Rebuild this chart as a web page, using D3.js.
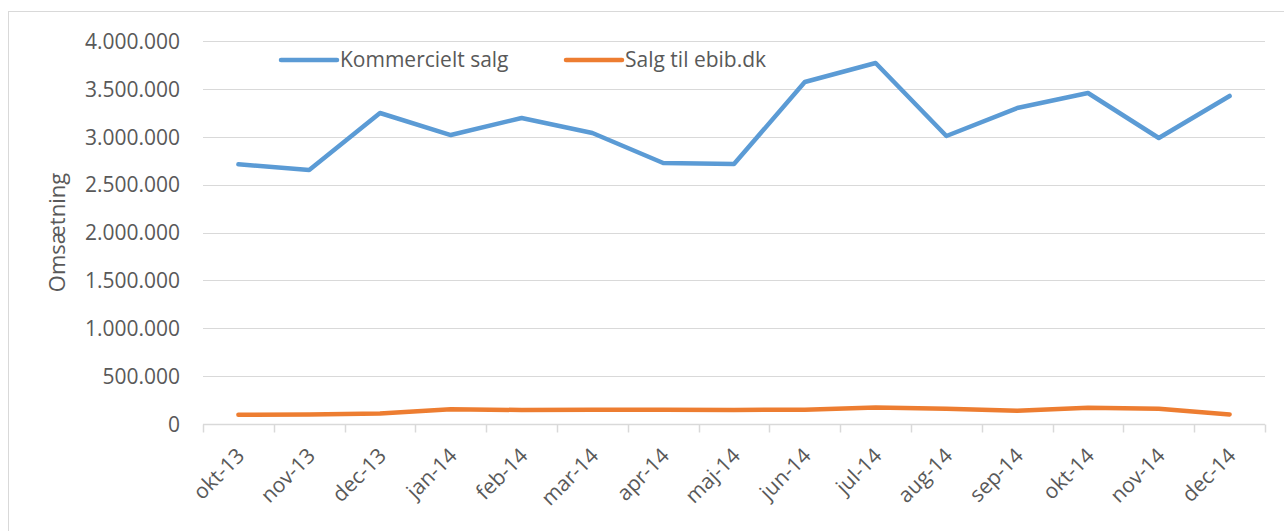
<!DOCTYPE html>
<html>
<head>
<meta charset="utf-8">
<script src="https://cdn.jsdelivr.net/npm/d3@7"></script>
<style>
  body { margin: 0; background: #fff; }
  svg text { font-family: "Open Sans", sans-serif; fill: #595959; }
</style>
</head>
<body>
<div id="chart"></div>
<script>
const months = ["okt-13", "nov-13", "dec-13", "jan-14", "feb-14", "mar-14", "apr-14", "maj-14",
  "jun-14", "jul-14", "aug-14", "sep-14", "okt-14", "nov-14", "dec-14"];
const kommercielt = [2712000, 2653000, 3248000, 3018000, 3196000, 3039000, 2726000, 2715000,
  3572000, 3770000, 3008000, 3300000, 3457000, 2987000, 3426000];
const ebib = [97000, 100000, 110000, 154000, 146000, 150000, 150000, 146000,
  150000, 172000, 160000, 138000, 170000, 160000, 100000];
const yTicks = [0, 500000, 1000000, 1500000, 2000000, 2500000, 3000000, 3500000, 4000000];
const seriesNames = ["Kommercielt salg", "Salg til ebib.dk"];
const colors = ["#5b9bd5", "#ed7d31"];

const w = 1284;
const h = 531;
const plotL = 203, plotR = 1265, plotT = 41, plotB = 424;

const svg = d3.select("#chart").append("svg").attr("width", w).attr("height", h);

// chart frame
svg.append("rect")
  .attr("x", 8.5).attr("y", 11.5)
  .attr("width", 1300).attr("height", 600)
  .attr("fill", "none").attr("stroke", "#d9d9d9");

const x = d3.scaleBand().domain(months).range([plotL, plotR]);
const y = d3.scaleLinear().domain([0, 4000000]).range([plotB, plotT]);

const fmt = d3.formatLocale({ decimal: ",", thousands: ".", grouping: [3], currency: ["", " kr"] }).format(",d");

// gridlines
svg.append("g")
  .selectAll("line")
  .data(yTicks.filter((d) => d > 0))
  .enter()
  .append("line")
  .attr("x1", plotL).attr("x2", plotR)
  .attr("y1", (d) => Math.round(y(d)) + 0.5)
  .attr("y2", (d) => Math.round(y(d)) + 0.5)
  .attr("stroke", "#d9d9d9").attr("stroke-width", 1);

// y axis labels
const yAxis = d3.axisLeft(y).tickValues(yTicks).tickFormat(fmt).tickSize(0).tickPadding(23);
const gy = svg.append("g").attr("transform", "translate(" + plotL + ",0)").call(yAxis);
gy.select(".domain").remove();
gy.selectAll("text").style("font-size", "21px").attr("dy", "0.35em");

// x axis
const gx = svg.append("g").attr("transform", "translate(0," + (plotB + 0.5) + ")");
gx.append("line").attr("x1", plotL).attr("x2", plotR).attr("stroke", "#d9d9d9").attr("stroke-width", 1.5);
const edges = months.map((m) => x(m)).concat([plotR]);
gx.selectAll(".tk")
  .data(edges)
  .enter()
  .append("line")
  .attr("x1", (d) => Math.round(d) + 0.5).attr("x2", (d) => Math.round(d) + 0.5)
  .attr("y1", 0).attr("y2", 8)
  .attr("stroke", "#d9d9d9").attr("stroke-width", 1.5);
gx.selectAll(".lbl")
  .data(months)
  .enter()
  .append("text")
  .attr("text-anchor", "end")
  .attr("transform", (d) => "translate(" + (x(d) + x.bandwidth() / 2 - 3) + ",22) rotate(-45)")
  .attr("dy", "0.7em")
  .style("font-size", "21px")
  .text((d) => d);

// y title
svg.append("text")
  .attr("transform", "translate(65," + (plotT + plotB) / 2 + ") rotate(-90)")
  .attr("text-anchor", "middle")
  .style("font-size", "22px")
  .text("Omsætning");

// lines
const line = d3.line()
  .x((d, i) => x(months[i]) + x.bandwidth() / 2)
  .y((d) => y(d));
[kommercielt, ebib].forEach((s, i) => {
  svg.append("path")
    .datum(s)
    .attr("d", line)
    .attr("fill", "none")
    .attr("stroke", colors[i])
    .attr("stroke-width", 4.5)
    .attr("stroke-linejoin", "round")
    .attr("stroke-linecap", "round");
});

// legend
const legendX = [281, 566];
const lg = svg.append("g");
seriesNames.forEach((n, i) => {
  lg.append("line")
    .attr("x1", legendX[i]).attr("x2", legendX[i] + 56)
    .attr("y1", 60).attr("y2", 60)
    .attr("stroke", colors[i]).attr("stroke-width", 4.5).attr("stroke-linecap", "round");
  lg.append("text")
    .attr("x", legendX[i] + 59).attr("y", 60).attr("dy", "0.35em")
    .style("font-size", "21px")
    .text(n);
});
</script>
</body>
</html>
